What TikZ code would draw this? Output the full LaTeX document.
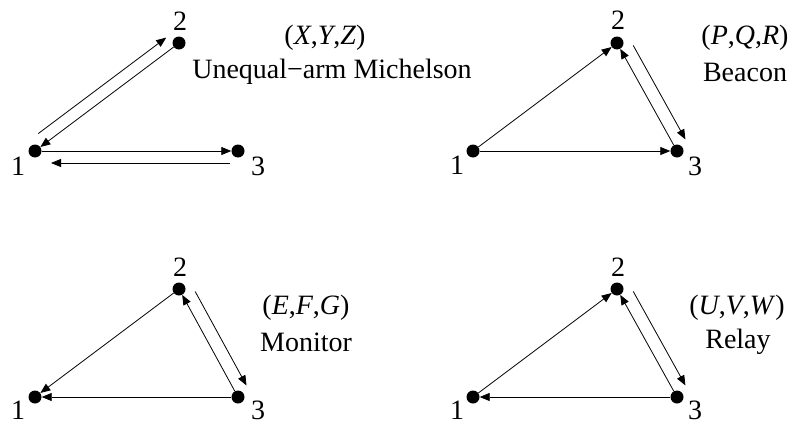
\documentclass[tikz,border=0pt]{standalone}
\usepackage{fontspec}
\setmainfont{Liberation Serif}
\usetikzlibrary{arrows.meta,calc}
\begin{document}
\begin{tikzpicture}[x=1pt,y=-1pt,
  dot/.style={circle,fill=black,inner sep=0pt,minimum size=13pt},
  arr/.style={-{Triangle[length=10pt,width=8pt]},line width=0.8pt},
  num/.style={font=\fontsize{28}{33}\selectfont,inner sep=0pt},
  lab/.style={font=\fontsize{28}{33}\selectfont,inner sep=0pt}]
\useasboundingbox (0,0) rectangle (790,423);
% ---------- top left: Unequal-arm Michelson
\node[dot] (a1) at (35,151) {};
\node[dot] (a2) at (179,43) {};
\node[dot] (a3) at (238,151) {};
\node[num] (a1l) at (18,166) {1};
\node[num] (a2l) at (180,21) {2};
\node[num] (a3l) at (258,166) {3};
\node[lab] (at1) at (325,38) {(\textit{X},\textit{Y},\textit{Z})};
\node[lab] (at2) at (332,72) {Unequal−arm Michelson};
\draw[arr] (a2) -- (a1);
\draw[arr,shorten <=13pt,shorten >=7pt] ($(a1)!12pt!90:(a2)$) -- ($(a2)!12pt!-90:(a1)$);
\draw[arr] (a1) -- (a3);
\draw[arr,shorten <=8pt,shorten >=16pt] ($(a3)!12pt!90:(a1)$) -- ($(a1)!12pt!-90:(a3)$);
% ---------- top right: Beacon
\node[dot] (b1) at (473,151) {};
\node[dot] (b2) at (617,43) {};
\node[dot] (b3) at (677,151) {};
\node[num] (b1l) at (457,165) {1};
\node[num] (b2l) at (618,20) {2};
\node[num] (b3l) at (695,166) {3};
\node[lab] (bt1) at (745,38) {(\textit{P},\textit{Q},\textit{R})};
\node[lab] (bt2) at (745,72) {Beacon};
\draw[arr] (b1) -- (b2);
\draw[arr] (b1) -- (b3);
\draw[arr] (b3) -- (b2);
\draw[arr,shorten <=10pt,shorten >=6pt] ($(b2)!13pt!90:(b3)$) -- ($(b3)!13pt!-90:(b2)$);
% ---------- bottom left: Monitor
\node[dot] (c1) at (35,397) {};
\node[dot] (c2) at (179,289) {};
\node[dot] (c3) at (238,397) {};
\node[num] (c1l) at (18,410) {1};
\node[num] (c2l) at (180,267) {2};
\node[num] (c3l) at (258,410) {3};
\node[lab] (ct1) at (306,308) {(\textit{E},\textit{F},\textit{G})};
\node[lab] (ct2) at (306,342) {Monitor};
\draw[arr] (c2) -- (c1);
\draw[arr] (c3) -- (c1);
\draw[arr] (c3) -- (c2);
\draw[arr,shorten <=10pt,shorten >=6pt] ($(c2)!13pt!90:(c3)$) -- ($(c3)!13pt!-90:(c2)$);
% ---------- bottom right: Relay
\node[dot] (d1) at (473,397) {};
\node[dot] (d2) at (617,289) {};
\node[dot] (d3) at (677,397) {};
\node[num] (d1l) at (457,410) {1};
\node[num] (d2l) at (618,267) {2};
\node[num] (d3l) at (695,410) {3};
\node[lab] (dt1) at (737,308) {(\textit{U},\textit{V},\textit{W})};
\node[lab] (dt2) at (738,342) {Relay};
\draw[arr] (d1) -- (d2);
\draw[arr] (d3) -- (d1);
\draw[arr] (d3) -- (d2);
\draw[arr,shorten <=10pt,shorten >=6pt] ($(d2)!13pt!90:(d3)$) -- ($(d3)!13pt!-90:(d2)$);
\end{tikzpicture}
\end{document}
